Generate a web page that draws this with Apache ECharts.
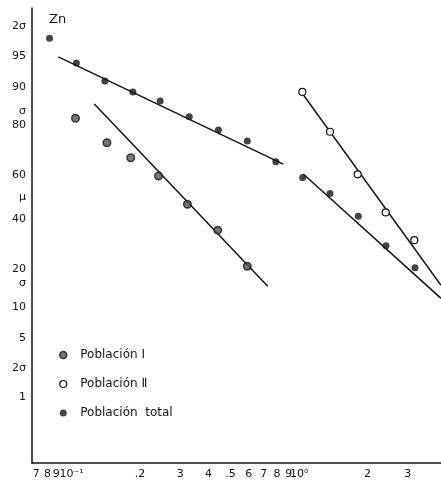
<!DOCTYPE html>
<html>
<head>
<meta charset="utf-8">
<script src="https://cdn.jsdelivr.net/npm/echarts@6/dist/echarts.min.js"></script>
<style>html,body{margin:0;padding:0;background:#fff}#c{width:441px;height:482px}</style>
</head>
<body>
<div id="c"></div>
<script>
// ---- data (x: concentration, log scale; y: cumulative %, probability scale) ----
const pop1X = [0.104, 0.143, 0.182, 0.241, 0.323, 0.439, 0.592];
const pop1Pct = [82.1, 73.7, 67.7, 59.7, 46.7, 35.0, 21.0];
const pop2X = [1.033, 1.367, 1.809, 2.402, 3.208];
const pop2Pct = [89.0, 77.7, 60.5, 42.9, 30.8];
const totalX = [0.080, 0.105, 0.140, 0.186, 0.245, 0.329, 0.442, 0.592, 0.790, 1.037, 1.367, 1.820, 2.409, 3.231];
const totalPct = [96.8, 94.1, 91.2, 89.0, 86.9, 82.6, 78.3, 74.4, 66.0, 59.1, 51.7, 41.2, 28.5, 20.5];
// fitted lines (end points)
const fitTotalUpperX = [0.0875, 0.852];
const fitTotalUpperPct = [94.9, 65.0];
const fitPop1X = [0.1259, 0.7278];
const fitPop1Pct = [86.1, 14.95];
const fitPop2X = [1.030, 4.203];
const fitPop2Pct = [88.75, 15.2];
const fitTotalLowerX = [1.043, 4.203];
const fitTotalLowerPct = [60.6, 11.9];
// tick labels
const xTickValues = [0.07, 0.08, 0.09, 0.1, 0.2, 0.3, 0.4, 0.5, 0.6, 0.7, 0.8, 0.9, 1, 2, 3];
const xTickLabels = ['7', '8', '9', '10\u207B\u00B9', '.2', '3', '4', '.5', '6', '7', '8', '9', '10\u2070', '2', '3'];
const yTickPct = [97.72, 95, 90, 84.13, 80, 60, 50, 40, 20, 15.87, 10, 5, 2.28, 1];
const yTickLabels = ['2σ', '95', '90', 'σ', '80', '60', 'μ', '40', '20', 'σ', '10', '5', '2σ', '1'];
const seriesNames = ['Población Ⅰ', 'Población Ⅱ', 'Población  total'];

// inverse standard normal CDF (probability-paper transform)
function probit(p) {
  const a = [-3.969683028665376e+01, 2.209460984245205e+02, -2.759285104469687e+02, 1.383577518672690e+02, -3.066479806614716e+01, 2.506628277459239e+00];
  const b = [-5.447609879822406e+01, 1.615858368580409e+02, -1.556989798598866e+02, 6.680131188771972e+01, -1.328068155288572e+01];
  const c = [-7.784894002430293e-03, -3.223964580411365e-01, -2.400758277161838e+00, -2.549732539343734e+00, 4.374664141464968e+00, 2.938163982698783e+00];
  const d = [7.784695709041462e-03, 3.224671290700398e-01, 2.445134137142996e+00, 3.754408661907416e+00];
  const pl = 0.02425;
  let q, r;
  if (p < pl) {
    q = Math.sqrt(-2 * Math.log(p));
    return (((((c[0]*q+c[1])*q+c[2])*q+c[3])*q+c[4])*q+c[5]) / ((((d[0]*q+d[1])*q+d[2])*q+d[3])*q+1);
  } else if (p <= 1 - pl) {
    q = p - 0.5; r = q * q;
    return (((((a[0]*r+a[1])*r+a[2])*r+a[3])*r+a[4])*r+a[5])*q / (((((b[0]*r+b[1])*r+b[2])*r+b[3])*r+b[4])*r+1);
  } else {
    q = Math.sqrt(-2 * Math.log(1 - p));
    return -(((((c[0]*q+c[1])*q+c[2])*q+c[3])*q+c[4])*q+c[5]) / ((((d[0]*q+d[1])*q+d[2])*q+d[3])*q+1);
  }
}
const z = pct => probit(pct / 100);
const pairs = (xs, ps) => xs.map((x, i) => [x, z(ps[i])]);
const yTickZ = yTickPct.map(z);

const ink = '#151515';
const font = 'DejaVu Sans, sans-serif';

const chart = echarts.init(document.getElementById('c'), null, { renderer: 'canvas' });
chart.setOption({
  animation: false,
  backgroundColor: '#ffffff',
  title: {
    text: 'Zn', left: 44, top: 8,
    textStyle: { fontSize: 13, fontWeight: 'normal', color: ink, fontFamily: font }
  },
  grid: { left: 32, right: 0, top: 8, bottom: 19, containLabel: false, outerBoundsMode: 'none' },
  legend: {
    data: seriesNames.map((n, i) => ({
      name: n,
      itemStyle: i === 1 ? { color: '#fff', borderColor: ink, borderWidth: 1.2 }
        : (i === 0 ? { color: '#555', borderColor: ink, borderWidth: 1.5 } : { color: ink, borderColor: ink, borderWidth: 0 })
    })),
    orient: 'vertical', left: 54, top: 344,
    itemWidth: 24, itemHeight: 7, itemGap: 17,
    textStyle: { fontSize: 12, color: ink, fontFamily: font }
  },
  xAxis: {
    type: 'log', logBase: 10, min: 0.0670, max: 4.203,
    axisLine: { show: true, onZero: false, lineStyle: { color: ink, width: 1.5 } },
    axisTick: { show: false },
    splitLine: { show: false },
    minorTick: { show: false },
    axisLabel: {
      customValues: xTickValues,
      margin: 6, fontSize: 11, color: ink, fontFamily: font,
      rich: {
        l2: { fontSize: 11, color: ink, fontFamily: font, padding: [0, 4, 0, 0] },
        l5: { fontSize: 11, color: ink, fontFamily: font, padding: [0, 10, 0, 0] }
      },
      formatter: function (v) {
        for (let i = 0; i < xTickValues.length; i++) {
          if (Math.abs(Math.log10(xTickValues[i]) - Math.log10(v)) < 1e-6) {
            if (i === 1) return '{l2|' + xTickLabels[i] + '}';
            if (i === 2) return '{l5|' + xTickLabels[i] + '}';
            return xTickLabels[i];
          }
        }
        return '';
      }
    }
  },
  yAxis: {
    type: 'value', min: -3.10, max: 2.205,
    axisLine: { show: true, onZero: false, lineStyle: { color: ink, width: 1.5 } },
    axisTick: { show: false },
    splitLine: { show: false },
    axisLabel: {
      customValues: yTickZ,
      margin: 6, fontSize: 11, color: ink, fontFamily: font,
      formatter: function (v) {
        for (let i = 0; i < yTickZ.length; i++) {
          if (Math.abs(yTickZ[i] - v) < 1e-6) return yTickLabels[i];
        }
        return '';
      }
    }
  },
  series: [
    { type: 'line', data: pairs(fitTotalUpperX, fitTotalUpperPct), showSymbol: false, silent: true, lineStyle: { color: ink, width: 1.5 }, z: 2 },
    { type: 'line', data: pairs(fitPop1X, fitPop1Pct), showSymbol: false, silent: true, lineStyle: { color: ink, width: 1.5 }, z: 2 },
    { type: 'line', data: pairs(fitPop2X, fitPop2Pct), showSymbol: false, silent: true, lineStyle: { color: ink, width: 1.5 }, z: 2 },
    { type: 'line', data: pairs(fitTotalLowerX, fitTotalLowerPct), showSymbol: false, silent: true, lineStyle: { color: ink, width: 1.5 }, z: 2 },
    { name: seriesNames[0], type: 'scatter', data: pairs(pop1X, pop1Pct), symbol: 'circle', symbolSize: 7.5,
      itemStyle: { color: '#555555', borderColor: ink, borderWidth: 1.5 }, z: 3 },
    { name: seriesNames[1], type: 'scatter', data: pairs(pop2X, pop2Pct), symbol: 'circle', symbolSize: 7,
      itemStyle: { color: '#ffffff', borderColor: ink, borderWidth: 1.2, opacity: 1 }, z: 3 },
    { name: seriesNames[2], type: 'scatter', data: pairs(totalX, totalPct), symbol: 'circle', symbolSize: 7,
      itemStyle: { color: ink }, z: 3 }
  ]
});
</script>
</body>
</html>
